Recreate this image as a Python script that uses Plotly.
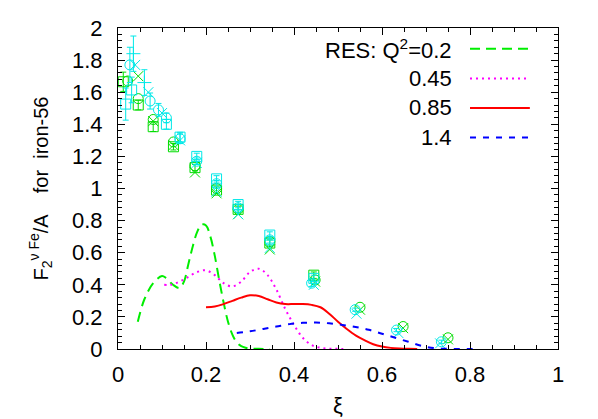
import plotly.graph_objects as go

# resonance-model curves, one per Q^2
res_labels = ["RES: Q<sup>2</sup>=0.2", "0.45", "0.85", "1.4"]
res_colors = ["#00ee00", "#ff00ff", "#ff0000", "#0000ff"]
res_dash = ["10px,6px", "2px,4px", "solid", "6px,7px"]

x_q020 = [0.045, 0.06, 0.08, 0.10, 0.11, 0.125, 0.14, 0.15, 0.16, 0.17, 0.18, 0.19, 0.20,
          0.21, 0.22, 0.23, 0.24, 0.25, 0.26, 0.27, 0.28, 0.29, 0.30, 0.32, 0.345]
y_q020 = [0.17, 0.31, 0.41, 0.455, 0.44, 0.40, 0.38, 0.42, 0.53, 0.64, 0.73, 0.775, 0.77,
          0.70, 0.58, 0.43, 0.29, 0.17, 0.09, 0.04, 0.018, 0.008, 0.003, 0.001, 0.0]

x_q045 = [0.105, 0.12, 0.14, 0.16, 0.18, 0.20, 0.22, 0.24, 0.26, 0.28, 0.30, 0.32, 0.34,
          0.36, 0.38, 0.40, 0.42, 0.44, 0.46, 0.48, 0.50, 0.52]
y_q045 = [0.40, 0.40, 0.42, 0.45, 0.48, 0.49, 0.46, 0.41, 0.39, 0.42, 0.48, 0.50, 0.46,
          0.37, 0.25, 0.15, 0.07, 0.025, 0.008, 0.002, 0.001, 0.0]

x_q085 = [0.20, 0.22, 0.24, 0.26, 0.28, 0.30, 0.32, 0.34, 0.36, 0.38, 0.40, 0.42, 0.44,
          0.46, 0.48, 0.50, 0.52, 0.54, 0.56, 0.58, 0.60, 0.62, 0.64, 0.66, 0.68]
y_q085 = [0.26, 0.265, 0.28, 0.30, 0.32, 0.335, 0.33, 0.31, 0.29, 0.28, 0.28, 0.28, 0.275,
          0.26, 0.22, 0.17, 0.125, 0.085, 0.055, 0.03, 0.015, 0.007, 0.003, 0.001, 0.0]

x_q140 = [0.27, 0.30, 0.33, 0.36, 0.39, 0.42, 0.45, 0.48, 0.51, 0.54, 0.57, 0.60, 0.63,
          0.66, 0.69, 0.72, 0.75, 0.78, 0.81]
y_q140 = [0.10, 0.11, 0.125, 0.14, 0.155, 0.163, 0.165, 0.16, 0.15, 0.137, 0.12, 0.095, 0.07,
          0.045, 0.02, 0.005, 0.001, 0.0, 0.0]

res_x = [x_q020, x_q045, x_q085, x_q140]
res_y = [y_q020, y_q045, y_q085, y_q140]

# measured F2 for iron (several experiments)
gsq_x = [0.012, 0.046, 0.08, 0.126, 0.175, 0.224, 0.273, 0.345, 0.445]
gsq_y = [1.665, 1.52, 1.385, 1.26, 1.13, 0.99, 0.87, 0.66, 0.46]
gsq_e = [0.06, 0.03, 0.03, 0.02, 0.02, 0.02, 0.02, 0.02, 0.02]

gci_x = [0.022, 0.046, 0.08, 0.126, 0.175, 0.224, 0.273, 0.345, 0.448, 0.55, 0.648, 0.75]
gci_y = [1.67, 1.56, 1.43, 1.29, 1.14, 1.00, 0.87, 0.67, 0.43, 0.26, 0.14, 0.07]

gx_x = [0.046, 0.08, 0.126, 0.175, 0.224, 0.273, 0.345, 0.448, 0.55, 0.648, 0.75]
gx_y = [1.70, 1.42, 1.27, 1.10, 0.97, 0.84, 0.62, 0.42, 0.245, 0.13, 0.06]

csq_x = [0.0175, 0.031, 0.11, 0.141, 0.179, 0.224, 0.273, 0.345, 0.445]
csq_y = [1.526, 1.614, 1.40, 1.32, 1.20, 1.06, 0.90, 0.71, 0.44]
csq_e = [0.10, 0.08, 0.03, 0.03, 0.02, 0.02, 0.02, 0.02, 0.02]

cci_x = [0.027, 0.073, 0.092, 0.11, 0.141, 0.179, 0.224, 0.273, 0.345, 0.44, 0.539, 0.633, 0.735]
cci_y = [1.77, 1.545, 1.49, 1.44, 1.31, 1.17, 1.03, 0.88, 0.68, 0.41, 0.245, 0.118, 0.045]
cci_e = [0.11, 0.05, 0.04, 0.03, 0.03, 0.02, 0.02, 0.02, 0.02, 0.02, 0.01, 0.01, 0.01]

cx_x = [0.039, 0.069, 0.10, 0.141, 0.179, 0.224, 0.273, 0.345, 0.445, 0.542, 0.637, 0.732]
cx_y = [1.77, 1.60, 1.47, 1.30, 1.16, 0.98, 0.84, 0.63, 0.40, 0.22, 0.10, 0.035]

cpl_x = [0.035, 0.06]
cpl_y = [1.84, 1.66]
cpl_e = [0.11, 0.08]

GREEN = "#00dd00"
CYAN = "#00e8e8"
FONT = "Liberation Sans, Arial, sans-serif"

fig = go.Figure()


def add_points(xs, ys, sym, col, err=None):
    fig.add_trace(go.Scatter(
        x=xs, y=ys, mode="markers",
        marker=dict(symbol=sym, size=10, color=col, line=dict(color=col, width=1)),
        error_y=dict(type="data", array=err, color=col, thickness=1, width=3, visible=err is not None),
        showlegend=False, hoverinfo="skip",
    ))


add_points(gsq_x, gsq_y, "square-open", GREEN, gsq_e)
add_points(gci_x, gci_y, "circle-open", GREEN)
add_points(gx_x, gx_y, "x-thin-open", GREEN)
add_points(csq_x, csq_y, "square-open", CYAN, csq_e)
add_points(cci_x, cci_y, "circle-open", CYAN, cci_e)
add_points(cx_x, cx_y, "x-thin-open", CYAN)
add_points(cpl_x, cpl_y, "cross-thin-open", CYAN, cpl_e)

for xs, ys, col, dash in zip(res_x, res_y, res_colors, res_dash):
    fig.add_trace(go.Scatter(x=xs, y=ys, mode="lines",
                             line=dict(color=col, width=2, dash=dash, shape="spline"),
                             showlegend=False, hoverinfo="skip"))

# hand-made key: text on the left, line sample on the right
for i, (lab, col, dash) in enumerate(zip(res_labels, res_colors, res_dash)):
    ky = 0.935 - i * 0.092
    fig.add_annotation(x=0.764, y=ky, xref="paper", yref="paper", text=lab,
                       showarrow=False, xanchor="right", yanchor="middle",
                       font=dict(size=22, color="black", family=FONT))
    fig.add_shape(type="line", xref="paper", yref="paper",
                  x0=0.80, x1=0.936, y0=ky, y1=ky,
                  line=dict(color=col, width=2, dash=dash))

axis_common = dict(
    showgrid=False, zeroline=False, showline=True, linecolor="black", linewidth=1,
    mirror="allticks", ticks="inside", ticklen=7, tickcolor="black",
    tickfont=dict(size=22, color="black", family=FONT), automargin=False,
)

fig.update_xaxes(range=[0, 1], dtick=0.2, tick0=0,
                 minor=dict(dtick=0.05, ticks="inside", ticklen=4, tickcolor="black"),
                 title=dict(text="ξ", font=dict(size=22, family=FONT), standoff=11),
                 ticklabelstandoff=6, **axis_common)
fig.update_yaxes(range=[0, 2], dtick=0.2, tick0=0,
                 minor=dict(dtick=0.04, ticks="inside", ticklen=4, tickcolor="black"),
                 title=dict(text="F<sub>2</sub><sup>ν Fe</sup>/A    for  iron-56",
                            font=dict(size=20, family=FONT), standoff=18),
                 ticklabelstandoff=10, **axis_common)

# the page body adds an 8px offset, so margins are shifted to keep the plot box in place
fig.update_layout(
    width=598, height=419,
    margin=dict(l=110, r=48, t=20, b=78),
    plot_bgcolor="white", paper_bgcolor="white",
    font=dict(family=FONT, color="black"),
)

fig.write_html("out.html")
